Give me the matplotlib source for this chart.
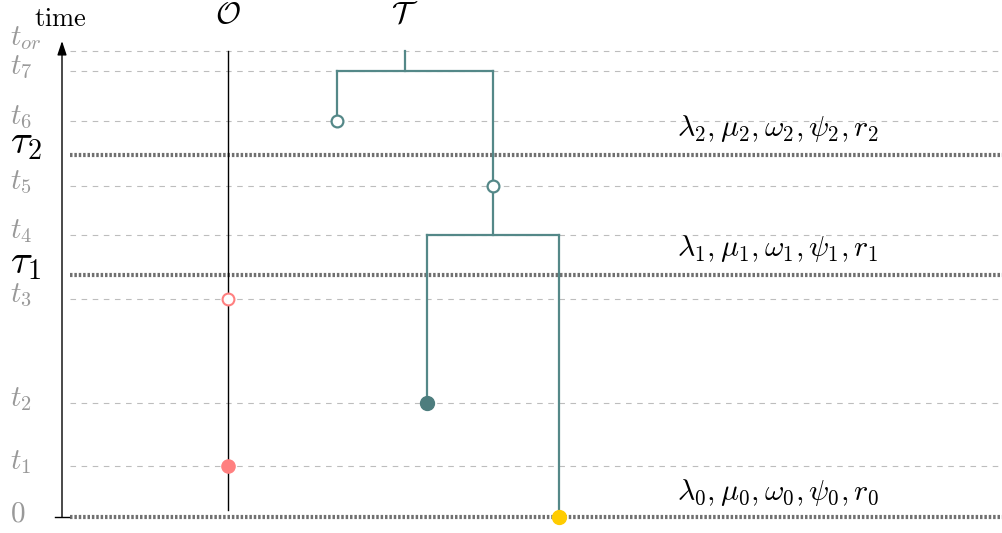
import numpy as np
import matplotlib.pyplot as plt

plt.rcParams['mathtext.fontset'] = 'cm'

# event times (arbitrary units)
t_names = ['$0$', '$t_1$', '$t_2$', '$t_3$', '$t_4$', '$t_5$', '$t_6$', '$t_7$', '$t_{or}$']
t_vals = [0.0, 0.51, 1.14, 2.18, 2.82, 3.31, 3.96, 4.46, 4.66]
tau_names = [r'$\tau_1$', r'$\tau_2$']
tau_vals = [2.42, 3.62]
rate_labels = [r'$\lambda_0,\mu_0,\omega_0,\psi_0,r_0$',
               r'$\lambda_1,\mu_1,\omega_1,\psi_1,r_1$',
               r'$\lambda_2,\mu_2,\omega_2,\psi_2,r_2$']
rate_y = [0.25, 2.69, 3.89]

# horizontal positions
x_axis = 62
x_obs = 228
x_root, x_a, x_b, x_c, x_d = 405, 337, 493, 427, 559

teal = '#548888'
dark_teal = '#4d7d7e'
red = '#ff8080'
yellow = '#ffcc00'
grey = '#bdbdbd'
dotted = '#707070'

fig = plt.figure(figsize=(10.02, 5.33), dpi=100)
ax = fig.add_axes([0, 0, 1, 1])
ax.set_xlim(0, 1002)
ax.set_ylim(-0.16, 5.17)
ax.axis('off')

# dashed guide lines at event times
for tv in t_vals[1:]:
    ax.plot([70, 1002], [tv, tv], color=grey, lw=0.8, ls=(0, (5, 5)), zorder=1)
# thick dotted lines at rate shifts and at the present
for tv in [0.0] + tau_vals:
    ax.plot([70, 1002], [tv, tv], color=dotted, lw=3.0, ls=(0, (0.6, 0.45)), zorder=1)

# time axis
ax.annotate('', xy=(x_axis, 4.76), xytext=(x_axis, 0.0),
            arrowprops=dict(arrowstyle='-|>,head_length=0.6,head_width=0.2',
                            color='black', lw=1.0,
                            mutation_scale=14, shrinkA=0, shrinkB=0))
ax.plot([55, 69], [0, 0], color='black', lw=1.0)
ax.text(60, 4.98, r'$\mathrm{time}$', fontsize=19, ha='center', va='center')

# time labels
for name, tv in zip(t_names, t_vals):
    dy = 0.13 if name == '$t_{or}$' else 0.04
    ax.text(10, tv + dy, name, fontsize=21, color='#999999', ha='left', va='center')
for name, tv in zip(tau_names, tau_vals):
    ax.text(10, tv + 0.13, name, fontsize=29, color='black', ha='left', va='center')

# rate labels
for lab, ry in zip(rate_labels, rate_y):
    ax.text(677, ry, lab, fontsize=21.5, ha='left', va='center')

# observations line
ax.text(x_obs, 5.03, r'$\mathcal{O}$', fontsize=22, ha='center', va='center')
ax.plot([x_obs, x_obs], [0.07, t_vals[8]], color='black', lw=1.0, zorder=2)
ax.plot(x_obs, t_vals[3], 'o', ms=8.5, mfc='white', mec=red, mew=1.5, zorder=3)
ax.plot(x_obs, t_vals[1], 'o', ms=9.5, color=red, zorder=3)

# tree
ax.text(x_root, 5.03, r'$\mathcal{T}$', fontsize=22, ha='center', va='center')
lw_tree = 1.6
ax.plot([x_root, x_root], [t_vals[8], t_vals[7]], color=teal, lw=lw_tree)
ax.plot([x_a, x_b], [t_vals[7], t_vals[7]], color=teal, lw=lw_tree)
ax.plot([x_a, x_a], [t_vals[7], t_vals[6]], color=teal, lw=lw_tree)
ax.plot([x_b, x_b], [t_vals[7], t_vals[4]], color=teal, lw=lw_tree)
ax.plot([x_c, x_d], [t_vals[4], t_vals[4]], color=teal, lw=lw_tree)
ax.plot([x_c, x_c], [t_vals[4], t_vals[2]], color=teal, lw=lw_tree)
ax.plot([x_d, x_d], [t_vals[4], t_vals[0]], color=teal, lw=lw_tree)
ax.plot(x_a, t_vals[6], 'o', ms=8.5, mfc='white', mec=teal, mew=1.6, zorder=3)
ax.plot(x_b, t_vals[5], 'o', ms=8.5, mfc='white', mec=teal, mew=1.6, zorder=3)
ax.plot(x_c, t_vals[2], 'o', ms=10, color=dark_teal, zorder=3)
ax.plot(x_d, t_vals[0], 'o', ms=10, color=yellow, zorder=3)

plt.savefig('out.png', dpi=100)
